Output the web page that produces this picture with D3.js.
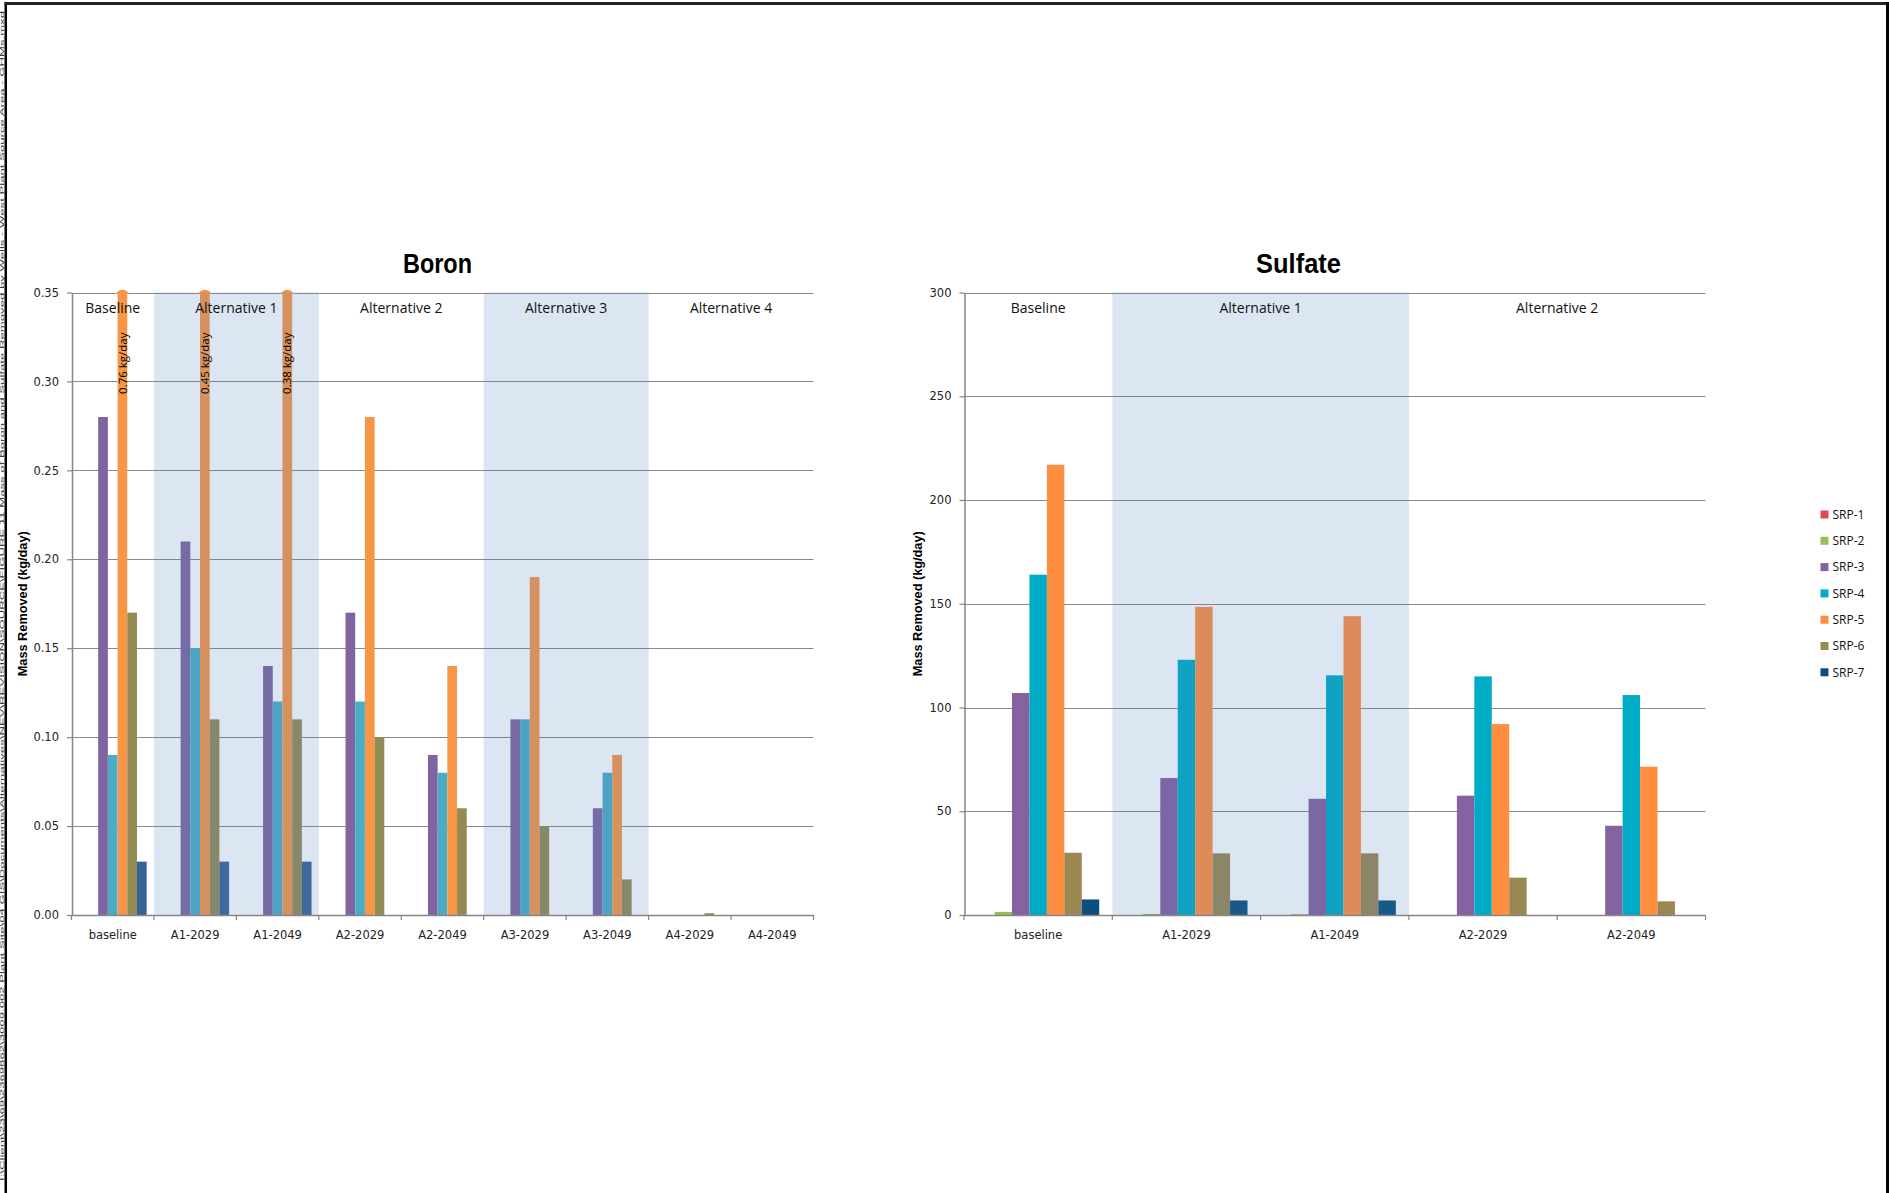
<!DOCTYPE html>
<html><head><meta charset="utf-8">
<script src="https://cdn.jsdelivr.net/npm/d3@7"></script>
<style>body{margin:0;background:#fff;} svg{display:block;}</style>
</head><body>
<svg id="c" width="1889" height="1193"></svg>
<script>
// ---------------- DATA ----------------
const seriesNames = ["SRP-1","SRP-2","SRP-3","SRP-4","SRP-5","SRP-6","SRP-7"];

const boronCategories = ["baseline","A1-2029","A1-2049","A2-2029","A2-2049","A3-2029","A3-2049","A4-2029","A4-2049"];
const boronSRP1 = [0,0,0,0,0,0,0,0,0];
const boronSRP2 = [0,0,0,0,0,0,0,0,0];
const boronSRP3 = [0.28,0.21,0.14,0.17,0.09,0.11,0.06,0,0];
const boronSRP4 = [0.09,0.15,0.12,0.12,0.08,0.11,0.08,0,0];
const boronSRP5 = [0.76,0.45,0.38,0.28,0.14,0.19,0.09,0,0];
const boronSRP6 = [0.17,0.11,0.11,0.10,0.06,0.05,0.02,0.001,0];
const boronSRP7 = [0.03,0.03,0.03,0,0,0,0,0,0];
const boronTicks = [0,0.05,0.10,0.15,0.20,0.25,0.30,0.35];
const boronGroupLabels = ["Baseline","Alternative 1","Alternative 2","Alternative 3","Alternative 4"];
const boronGroupFirst = ["baseline","A1-2029","A2-2029","A3-2029","A4-2029"];
const boronGroupLast  = ["baseline","A1-2049","A2-2049","A3-2049","A4-2049"];
const boronGroupShaded = [false,true,false,true,false];

const sulfateCategories = ["baseline","A1-2029","A1-2049","A2-2029","A2-2049"];
const sulfateSRP1 = [0,0,0,0,0];
const sulfateSRP2 = [1.5,0.5,0.4,0,0];
const sulfateSRP3 = [107,66,56,57.5,43];
const sulfateSRP4 = [164,123,115.5,115,106];
const sulfateSRP5 = [217,148.5,144,92,71.5];
const sulfateSRP6 = [30,29.7,29.7,18,6.6];
const sulfateSRP7 = [7.5,7,7,0,0];
const sulfateTicks = [0,50,100,150,200,250,300];
const sulfateGroupLabels = ["Baseline","Alternative 1","Alternative 2"];
const sulfateGroupFirst = ["baseline","A1-2029","A2-2029"];
const sulfateGroupLast  = ["baseline","A1-2049","A2-2049"];
const sulfateGroupShaded = [false,true,false];

const boronColors   = ["#C0504D","#9BBB59","#8064A2","#4BACC6","#F79646","#948A54","#3A6395"];
const sulfateColors = ["#DB4B4B","#97BF55","#8562A0","#00ABC5","#FF8E40","#9A8752","#0C4F7E"];

const yLabel = "Mass Removed (kg/day)";
const unitSuffix = " kg/day";
const pathText = "I:\\Client\\23\\69\\2369862\\3009.002 Plant Site\\04 GIS\\Documents\\Alternatives\\NEV\\REVISION\\SOURCE\\FIGURE 11 Mass of Boron and Sulfate Removed by Wells - West Plant Source Area - GHMs.mxd";

// ---------------- DRAW ----------------
const svg = d3.select("#c");
svg.append("rect").attr("width",1889).attr("height",1193).attr("fill","#fff");

const AX = "#868686";
const tickFont = "'DejaVu Sans', Verdana, sans-serif";
const labFont = "'Open Sans', 'Liberation Sans', sans-serif";

function drawChart(cfg) {
  const g = svg.append("g");
  const x = d3.scaleBand().domain(cfg.cats).range([cfg.left, cfg.right]).padding(0);
  const xs = d3.scaleBand().domain(seriesNames).range([0, x.bandwidth()]).paddingInner(0).paddingOuter(0.75);
  const yMax = cfg.ticks[cfg.ticks.length-1];
  const y = d3.scaleLinear().domain([0, yMax]).range([cfg.bottom, cfg.top]);

  // gridlines
  g.append("g").selectAll("line").data(cfg.ticks.filter(t => t > 0)).join("line")
    .attr("x1", cfg.left).attr("x2", cfg.right)
    .attr("y1", d => Math.round(y(d)) + 0.5).attr("y2", d => Math.round(y(d)) + 0.5)
    .attr("stroke", "#8a8a8a").attr("stroke-width", 1.2);

  // bars
  const rows = [];
  cfg.cats.forEach((c, i) => {
    seriesNames.forEach((s, j) => rows.push({cat: c, ser: s, j, v: cfg.series[j][i]}));
  });
  const bars = rows.filter(d => d.v > 0);
  g.append("g").selectAll("rect").data(bars).join("rect")
    .attr("x", d => x(d.cat) + xs(d.ser))
    .attr("width", xs.bandwidth())
    .attr("y", d => y(Math.min(d.v, yMax)))
    .attr("height", d => Math.max(0.6, y(0) - y(Math.min(d.v, yMax))))
    .attr("fill", d => cfg.colors[d.j]);

  // overflow caps
  const over = bars.filter(d => d.v > yMax);
  g.append("g").selectAll("path").data(over).join("path")
    .attr("d", d => {
      const cx = x(d.cat) + xs(d.ser) + xs.bandwidth()/2;
      const w = xs.bandwidth()/2 + 2.5;
      const t = y(yMax);
      return `M${cx-w},${t+1.5} Q${cx},${t-7} ${cx+w},${t+1.5} Z`;
    })
    .attr("fill", d => cfg.colors[d.j]);

  // shaded bands (on top of bars)
  const bandIdx = cfg.groupLabels.map((l, k) => k).filter(k => cfg.groupShaded[k]);
  g.append("g").selectAll("rect").data(bandIdx).join("rect")
    .attr("x", k => x(cfg.groupFirst[k]))
    .attr("width", k => x(cfg.groupLast[k]) + x.bandwidth() - x(cfg.groupFirst[k]))
    .attr("y", cfg.top).attr("height", cfg.bottom - cfg.top)
    .attr("fill", "rgba(79,129,189,0.2)");

  // overflow labels
  g.append("g").selectAll("text").data(over).join("text")
    .attr("transform", d => {
      const cx = x(d.cat) + xs(d.ser) + xs.bandwidth()/2;
      return `translate(${cx},${cfg.top + 40}) rotate(-90)`;
    })
    .attr("text-anchor", "end").attr("dy", "0.36em")
    .attr("font-family", labFont).attr("font-size", 11.5).attr("fill", "#000")
    .text(d => d3.format(".2f")(d.v) + unitSuffix);

  // group labels
  g.append("g").selectAll("text").data(cfg.groupLabels).join("text")
    .attr("x", (l, k) => (x(cfg.groupFirst[k]) + x(cfg.groupLast[k]) + x.bandwidth())/2)
    .attr("y", cfg.top + 20)
    .attr("text-anchor", "middle")
    .attr("font-family", labFont).attr("font-size", 14).attr("fill", "#111")
    .text(l => l);

  // y axis
  const ya = g.append("g").attr("transform", `translate(${cfg.left + 0.5},0)`)
    .call(d3.axisLeft(y).tickValues(cfg.ticks).tickFormat(cfg.fmt).tickSize(5).tickSizeOuter(0).tickPadding(8));
  ya.select(".domain").attr("stroke", AX).attr("stroke-width", 1.5);
  ya.selectAll(".tick line").attr("stroke", AX).attr("stroke-width", 1.2);
  ya.selectAll(".tick text").attr("font-family", tickFont).attr("font-size", 11.5).attr("fill", "#222");

  // x axis
  const xa = g.append("g");
  xa.append("line").attr("x1", cfg.left).attr("x2", cfg.right)
    .attr("y1", cfg.bottom + 0.5).attr("y2", cfg.bottom + 0.5)
    .attr("stroke", AX).attr("stroke-width", 1.5);
  const bounds = cfg.cats.map(c => x(c)).concat([cfg.right]);
  xa.selectAll("line.tk").data(bounds).join("line").attr("class", "tk")
    .attr("x1", d => d).attr("x2", d => d)
    .attr("y1", cfg.bottom).attr("y2", cfg.bottom + 5)
    .attr("stroke", AX).attr("stroke-width", 1.2);
  xa.selectAll("text").data(cfg.cats).join("text")
    .attr("x", c => x(c) + x.bandwidth()/2).attr("y", cfg.bottom + 24)
    .attr("text-anchor", "middle")
    .attr("font-family", tickFont).attr("font-size", 11.5).attr("fill", "#222")
    .text(c => c);

  // y label
  g.append("text")
    .attr("transform", `translate(${cfg.yLabelX},${(cfg.top + cfg.bottom)/2 + 0}) rotate(-90)`)
    .attr("text-anchor", "middle").attr("dy", "0.35em")
    .attr("font-family", "'Liberation Sans Narrow', 'Liberation Sans', sans-serif")
    .attr("font-weight", "bold").attr("font-size", 13)
    .attr("textLength", 145).attr("lengthAdjust", "spacingAndGlyphs")
    .text(yLabel);

  // title
  g.append("text")
    .attr("x", cfg.titleX).attr("y", 273)
    .attr("text-anchor", "middle")
    .attr("font-family", "'Liberation Sans Narrow', 'Liberation Sans', sans-serif")
    .attr("font-weight", "bold").attr("font-size", 28)
    .attr("textLength", cfg.titleLen).attr("lengthAdjust", "spacingAndGlyphs")
    .text(cfg.title);
}

drawChart({
  title: "Boron", titleX: 437.5, titleLen: 69,
  cats: boronCategories,
  series: [boronSRP1,boronSRP2,boronSRP3,boronSRP4,boronSRP5,boronSRP6,boronSRP7],
  colors: boronColors, ticks: boronTicks, fmt: d3.format(".2f"),
  left: 71.5, right: 813.5, top: 292.5, bottom: 915,
  groupLabels: boronGroupLabels, groupFirst: boronGroupFirst, groupLast: boronGroupLast, groupShaded: boronGroupShaded,
  yLabelX: 22
});

drawChart({
  title: "Sulfate", titleX: 1298.5, titleLen: 85,
  cats: sulfateCategories,
  series: [sulfateSRP1,sulfateSRP2,sulfateSRP3,sulfateSRP4,sulfateSRP5,sulfateSRP6,sulfateSRP7],
  colors: sulfateColors, ticks: sulfateTicks, fmt: d3.format("d"),
  left: 964, right: 1705.5, top: 292.5, bottom: 915,
  groupLabels: sulfateGroupLabels, groupFirst: sulfateGroupFirst, groupLast: sulfateGroupLast, groupShaded: sulfateGroupShaded,
  yLabelX: 917
});

// legend
const lg = svg.append("g").attr("transform", "translate(1820.5,514.5)");
const li = lg.selectAll("g").data(seriesNames).join("g")
  .attr("transform", (d, i) => `translate(0,${i * 26.3})`);
li.append("rect").attr("x", 0).attr("y", -4).attr("width", 8).attr("height", 8)
  .attr("fill", (d, i) => sulfateColors[i]);
li.append("text").attr("x", 12).attr("y", 0).attr("dy", "0.36em")
  .attr("font-family", labFont).attr("font-size", 12).attr("fill", "#111")
  .text(d => d);

// page frame and file path text in the left margin strip
svg.append("text")
  .attr("transform", "translate(4.3,596) rotate(-90)")
  .attr("text-anchor", "middle")
  .attr("font-family", "'Liberation Sans', sans-serif").attr("font-size", 5.5).attr("fill", "#333")
  .attr("textLength", 1170).attr("lengthAdjust", "spacingAndGlyphs")
  .text(pathText);
svg.append("rect").attr("x", 4.5).attr("y", 2).attr("width", 2.5).attr("height", 1191).attr("fill", "#000");
svg.append("rect").attr("x", 4.5).attr("y", 2).attr("width", 1884.5).attr("height", 3).attr("fill", "#222");
svg.append("rect").attr("x", 1886).attr("y", 2).attr("width", 3).attr("height", 1191).attr("fill", "#000");
</script>
</body></html>
